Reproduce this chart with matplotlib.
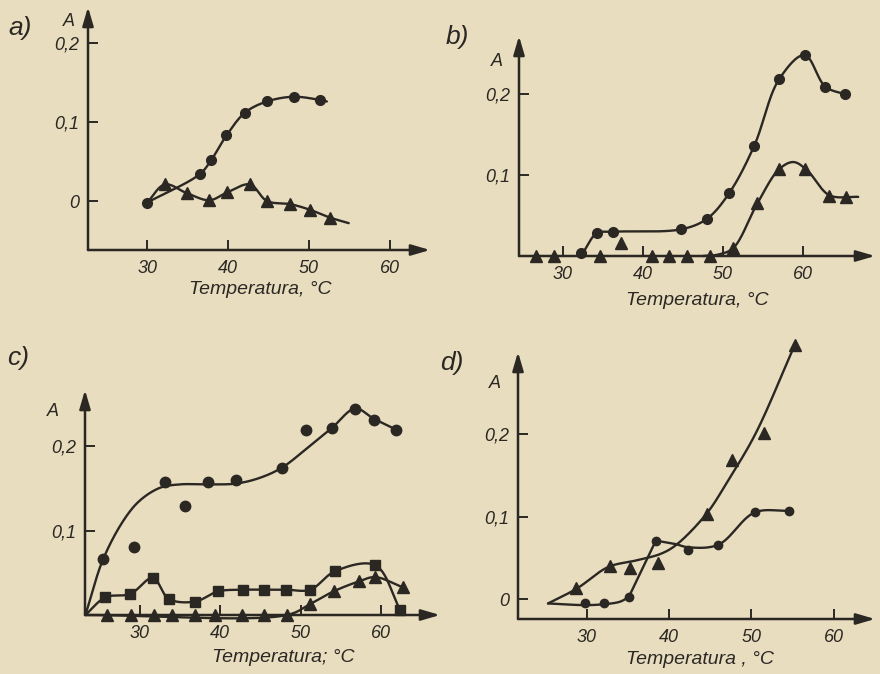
import numpy as np
import matplotlib
matplotlib.use("Agg")
import matplotlib.pyplot as plt

W, H = 880, 674
BG = "#E9DDBF"
INK = "#2B2824"
FONT = ["Liberation Sans", "DejaVu Sans"]

# ---------------- data ----------------
# panel a
a_circ_T = [30, 36.5, 37.9, 39.8, 42.1, 44.8, 48.1, 51.3]
a_circ_A = [-0.002, 0.034, 0.0515, 0.083, 0.112, 0.126, 0.132, 0.128]
a_circ_line_T = [30, 36.5, 37.9, 39.8, 42.1, 44.8, 48.1, 51.3, 52.2]
a_circ_line_A = [-0.002, 0.034, 0.0515, 0.083, 0.112, 0.126, 0.132, 0.128, 0.126]
a_tri_T = [32.2, 34.9, 37.7, 39.9, 42.7, 44.8, 47.7, 50.1, 52.6]
a_tri_A = [0.021, 0.010, 0.001, 0.011, 0.021, 0.0, -0.004, -0.011, -0.021]
a_tri_line_T = [30, 32.2, 34.9, 37.7, 39.9, 42.7, 44.8, 47.7, 50.1, 52.6, 54.9]
a_tri_line_A = [-0.002, 0.021, 0.010, 0.001, 0.011, 0.021, 0.0, -0.004, -0.011, -0.021, -0.028]

# panel b
b_circ_T = [32.3, 34.2, 36.3, 44.8, 48.0, 50.8, 53.9, 57.0, 60.2, 62.8, 65.2]
b_circ_A = [0.004, 0.028, 0.030, 0.033, 0.046, 0.078, 0.136, 0.218, 0.248, 0.209, 0.200]
b_circ_line_T = [32.0, 32.6, 34.2, 36.3, 44.8, 48.0, 50.8, 53.9, 57.0, 60.2, 62.8, 65.5]
b_circ_line_A = [0.0, 0.006, 0.028, 0.030, 0.033, 0.046, 0.078, 0.136, 0.218, 0.248, 0.209, 0.199]
b_tri_T = [26.6, 28.9, 34.6, 37.3, 41.1, 43.2, 45.5, 48.4, 51.3, 54.3, 57.0, 60.2, 63.3, 65.4]
b_tri_A = [0, 0, 0, 0.016, 0, 0, 0, 0, 0.010, 0.065, 0.107, 0.107, 0.074, 0.073]
b_tri_line_T = [47.5, 49.5, 51.3, 54.3, 57.0, 58.8, 60.5, 63.3, 66.9]
b_tri_line_A = [0.0, 0.002, 0.010, 0.065, 0.107, 0.116, 0.106, 0.075, 0.073]

# panel c
c_circ_T = [25.4, 29.2, 33.1, 35.6, 38.5, 42.0, 47.7, 50.7, 53.9, 56.8, 59.1, 61.9]
c_circ_A = [0.066, 0.081, 0.158, 0.129, 0.158, 0.160, 0.175, 0.219, 0.222, 0.245, 0.231, 0.220]
c_circ_line_T = [23.2, 25.4, 28.0, 30.0, 32.5, 35.0, 38.5, 42.0, 45.0, 47.7, 50.7, 53.9, 56.8, 59.1, 61.9]
c_circ_line_A = [0.0, 0.066, 0.113, 0.136, 0.151, 0.155, 0.155, 0.156, 0.163, 0.175, 0.197, 0.222, 0.245, 0.233, 0.220]
c_sq_T = [25.7, 28.8, 31.6, 33.6, 36.9, 39.7, 42.8, 45.5, 48.2, 51.2, 54.3, 59.3, 62.4]
c_sq_A = [0.021, 0.025, 0.044, 0.019, 0.016, 0.028, 0.030, 0.030, 0.030, 0.030, 0.052, 0.059, 0.006]
c_sq_line_T = [23.2] + c_sq_T
c_sq_line_A = [0.0] + c_sq_A
c_tri_T = [25.9, 28.9, 31.7, 34.0, 36.9, 39.4, 42.7, 45.4, 48.3, 51.2, 54.1, 57.3, 59.3, 62.7]
c_tri_A = [0, 0, 0, 0, 0, 0, 0, 0, 0, 0.013, 0.028, 0.040, 0.045, 0.033]
c_tri_line_T = [23.2, 48.3, 51.2, 54.1, 57.3, 59.3, 62.7]
c_tri_line_A = [0.0, 0.0, 0.013, 0.028, 0.040, 0.045, 0.033]

# panel d
d_tri_T = [28.7, 32.8, 35.3, 38.7, 44.6, 47.6, 51.5, 55.3]
d_tri_A = [0.014, 0.040, 0.038, 0.044, 0.103, 0.169, 0.201, 0.308]
d_tri_line_T = [25.3, 28.8, 32.6, 36.0, 39.0, 40.9, 44.6, 47.2, 50.5, 55.3]
d_tri_line_A = [-0.005, 0.013, 0.039, 0.047, 0.055, 0.066, 0.104, 0.144, 0.200, 0.308]
d_circ_T = [29.8, 32.1, 35.1, 38.4, 42.3, 46.0, 50.4, 54.6]
d_circ_A = [-0.004, -0.005, 0.0025, 0.071, 0.060, 0.066, 0.105, 0.107]
# the circle curve has two corners (at 35.1 and 38.4), so it is drawn in three pieces
d_circ_line1_T = [25.3, 29.8, 32.0, 34.0, 35.1]
d_circ_line1_A = [-0.005, -0.007, -0.006, -0.003, 0.0025]
d_circ_line2_T = [35.1, 38.4]
d_circ_line2_A = [0.0025, 0.071]
d_circ_line3_T = [38.4, 40.7, 42.3, 46.0, 50.4, 54.6]
d_circ_line3_A = [0.071, 0.067, 0.063, 0.066, 0.105, 0.107]

x_ticks = [30, 40, 50, 60]
x_tick_labels = ["30", "40", "50", "60"]
y_ticks_full = [0, 0.1, 0.2]
y_labels_full = ["0", "0,1", "0,2"]
y_ticks_part = [0.1, 0.2]
y_labels_part = ["0,1", "0,2"]

# ---------------- helpers ----------------
fig = plt.figure(figsize=(W / 100, H / 100), dpi=100)
fig.patch.set_facecolor(BG)


def fx(x):
    return x / W


def fy(y):
    return 1 - y / H


def make_axes(rect, xlim, ylim, yticks, ylabels):
    l, t, r, b = rect
    ax = fig.add_axes([fx(l), fy(b), (r - l) / W, (b - t) / H])
    ax.set_facecolor("none")
    ax.set_xlim(*xlim)
    ax.set_ylim(*ylim)
    for s in ax.spines.values():
        s.set_visible(False)
    ax.set_xticks(x_ticks)
    ax.set_xticklabels(x_tick_labels)
    ax.set_yticks(yticks)
    ax.set_yticklabels(ylabels)
    ax.tick_params(direction="in", length=7.5, width=1.4, color=INK,
                   labelcolor=INK, labelsize=13, pad=6)
    ax.tick_params(axis="x", pad=7)
    for lab in ax.get_xticklabels() + ax.get_yticklabels():
        lab.set_fontstyle("italic")
        lab.set_family(FONT)
    arrow = dict(arrowstyle="-|>,head_length=0.75,head_width=0.22", lw=1.8,
                 color=INK, shrinkA=0, shrinkB=0, mutation_scale=15)
    ax.annotate("", xy=(1, 0), xytext=(0, 0), xycoords="axes fraction",
                textcoords="axes fraction", arrowprops=arrow)
    ax.annotate("", xy=(0, 1), xytext=(0, 0), xycoords="axes fraction",
                textcoords="axes fraction", arrowprops=arrow)
    ax._pix = (r - l, b - t)
    return ax


def smooth(ax, xs, ys, n=30, alpha=0.5):
    """Centripetal Catmull-Rom through the given points (computed in axes-pixel space)."""
    x0, x1 = ax.get_xlim()
    y0, y1 = ax.get_ylim()
    pw, ph = ax._pix
    P = np.column_stack([(np.asarray(xs, float) - x0) / (x1 - x0) * pw,
                         (np.asarray(ys, float) - y0) / (y1 - y0) * ph])
    if len(P) > 2:
        P = np.vstack([2 * P[0] - P[1], P, 2 * P[-1] - P[-2]])
        out = []
        for i in range(1, len(P) - 2):
            p0, p1, p2, p3 = P[i - 1], P[i], P[i + 1], P[i + 2]
            t0 = 0.0
            t1 = t0 + max(np.linalg.norm(p1 - p0), 1e-6) ** alpha
            t2 = t1 + max(np.linalg.norm(p2 - p1), 1e-6) ** alpha
            t3 = t2 + max(np.linalg.norm(p3 - p2), 1e-6) ** alpha
            t = np.linspace(t1, t2, n)[:, None]
            A1 = (t1 - t) / (t1 - t0) * p0 + (t - t0) / (t1 - t0) * p1
            A2 = (t2 - t) / (t2 - t1) * p1 + (t - t1) / (t2 - t1) * p2
            A3 = (t3 - t) / (t3 - t2) * p2 + (t - t2) / (t3 - t2) * p3
            B1 = (t2 - t) / (t2 - t0) * A1 + (t - t0) / (t2 - t0) * A2
            B2 = (t3 - t) / (t3 - t1) * A2 + (t - t1) / (t3 - t1) * A3
            C = (t2 - t) / (t2 - t1) * B1 + (t - t1) / (t2 - t1) * B2
            out.append(C if i == 1 else C[1:])
        P = np.vstack(out)
    X = P[:, 0] / pw * (x1 - x0) + x0
    Y = P[:, 1] / ph * (y1 - y0) + y0
    ax.plot(X, Y, color=INK, lw=1.7, clip_on=False, solid_capstyle="round")


def marks(ax, xs, ys, m, ms):
    ax.plot(xs, ys, ls="none", marker=m, ms=ms, color=INK, mfc=INK,
            mec=INK, clip_on=False, zorder=5)


def texts(ax, label, label_xy, A_xy, xl, xl_xy):
    fig.text(fx(label_xy[0]), fy(label_xy[1]), label, fontsize=19,
             style="italic", family=FONT, color=INK, ha="center", va="center")
    fig.text(fx(A_xy[0]), fy(A_xy[1]), "A", fontsize=13, style="italic",
             family=FONT, color=INK, ha="center", va="center")
    fig.text(fx(xl_xy[0]), fy(xl_xy[1]), xl, fontsize=14, style="italic",
             family=FONT, color=INK, ha="center", va="center")


# ---------------- panel a ----------------
axa = make_axes((88, 7, 430, 250), (22.7, 64.94), (-0.062, 0.2456),
                y_ticks_full, y_labels_full)
smooth(axa, a_circ_line_T, a_circ_line_A)
smooth(axa, a_tri_line_T, a_tri_line_A)
marks(axa, a_circ_T, a_circ_A, "o", 7)
marks(axa, a_tri_T, a_tri_A, "^", 8)
texts(axa, "a)", (20, 28), (69, 22), "Temperatura, °C", (260, 290))

# ---------------- panel b ----------------
axb = make_axes((519, 36, 875, 256), (24.5, 69.0), (0.0, 0.2716),
                y_ticks_part, y_labels_part)
smooth(axb, b_circ_line_T, b_circ_line_A)
smooth(axb, b_tri_line_T, b_tri_line_A)
marks(axb, b_circ_T, b_circ_A, "o", 7)
marks(axb, b_tri_T, b_tri_A, "^", 8)
texts(axb, "b)", (457, 37), (497, 61), "Temperatura, °C", (697, 300))

# ---------------- panel c ----------------
axc = make_axes((85, 390, 440, 615), (23.15, 67.36), (0.0, 0.267),
                y_ticks_part, y_labels_part)
smooth(axc, c_circ_line_T, c_circ_line_A)
smooth(axc, c_sq_line_T, c_sq_line_A)
smooth(axc, c_tri_line_T, c_tri_line_A)
marks(axc, c_circ_T, c_circ_A, "o", 7.5)
marks(axc, c_sq_T, c_sq_A, "s", 7)
marks(axc, c_tri_T, c_tri_A, "^", 8)
texts(axc, "c)", (18, 358), (53, 412), "Temperatura; °C", (283, 658))

# ---------------- panel d ----------------
axd = make_axes((518, 352, 875, 619), (21.65, 65.03), (-0.0238, 0.299),
                y_ticks_full, y_labels_full)
smooth(axd, d_tri_line_T, d_tri_line_A)
smooth(axd, d_circ_line1_T, d_circ_line1_A)
smooth(axd, d_circ_line2_T, d_circ_line2_A)
smooth(axd, d_circ_line3_T, d_circ_line3_A)
marks(axd, d_tri_T, d_tri_A, "^", 8.5)
marks(axd, d_circ_T, d_circ_A, "o", 6)
texts(axd, "d)", (452, 363), (495, 383), "Temperatura , °C", (700, 660))

fig.savefig("out.png", dpi=100, facecolor=BG)
